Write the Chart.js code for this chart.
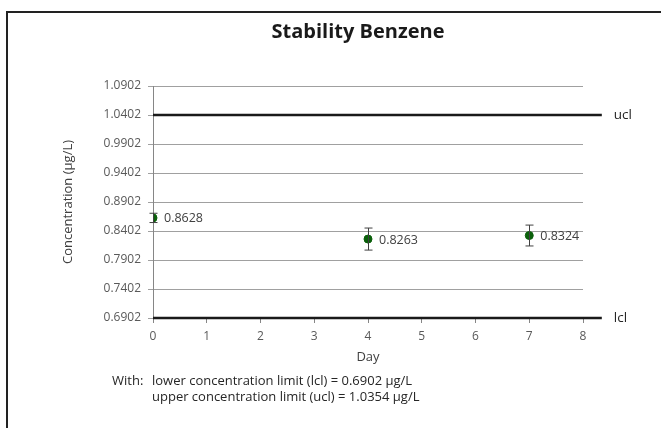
<!DOCTYPE html>
<html lang="en">
<head>
  <meta charset="UTF-8">
  <title>Stability Benzene</title>
  <script src="https://cdn.jsdelivr.net/npm/chart.js"></script>
  <style>
    body { margin: 0; background: #fff; }
    #wrap { position: relative; width: 661px; height: 428px; }
    #frame { position: absolute; left: 6px; top: 11px; right: 0; bottom: 0;
             border-top: 2px solid #222; border-left: 2px solid #222; pointer-events: none; }
    #title { position: absolute; left: 258px; width: 200px; top: 18px; text-align: center;
             font-family: 'Open Sans', sans-serif; font-weight: bold; font-size: 20px;
             line-height: 26px; color: #1a1a1a; }
    #note { position: absolute; left: 112px; top: 372px; font-family: 'Open Sans', sans-serif;
            font-size: 13px; line-height: 16px; color: #262626; white-space: nowrap; }
    #note span { display: inline-block; width: 40px; }
    #note div { padding-left: 40px; }
  </style>
</head>
<body>
  <div id="wrap">
    <canvas id="stabilityChart" width="661" height="428"></canvas>
    <div id="frame"></div>
    <div id="title">Stability Benzene</div>
    <div id="note">
      <span>With:</span>lower concentration limit (lcl) = 0.6902 µg/L
      <div>upper concentration limit (ucl) = 1.0354 µg/L</div>
    </div>
  </div>
  <script>
    // values
    const days = [0, 4, 7];
    const concentration = [0.8628, 0.8263, 0.8324];
    const errorSize = [0.008, 0.019, 0.018];
    const xTicks = [0, 1, 2, 3, 4, 5, 6, 7, 8];
    const yTicks = [0.6902, 0.7402, 0.7902, 0.8402, 0.8902, 0.9402, 0.9902, 1.0402, 1.0902];
    const limitNames = ['ucl', 'lcl'];
    const limitValues = [1.0402, 0.6902];
    const limitSpan = [0, 8.35];

    Chart.defaults.font.family = "'Open Sans', sans-serif";

    // vertical error bars with caps
    const errorBars = {
      id: 'errorBars',
      afterDatasetsDraw(chart) {
        const ctx = chart.ctx;
        const x = chart.scales.x, y = chart.scales.y;
        ctx.save();
        ctx.strokeStyle = '#404040';
        ctx.lineWidth = 1;
        days.forEach((d, i) => {
          const px = Math.round(x.getPixelForValue(d)) + 0.5;
          const top = y.getPixelForValue(concentration[i] + errorSize[i]);
          const bot = y.getPixelForValue(concentration[i] - errorSize[i]);
          ctx.beginPath();
          ctx.moveTo(px, top); ctx.lineTo(px, bot);
          ctx.moveTo(px - 4, top); ctx.lineTo(px + 4, top);
          ctx.moveTo(px - 4, bot); ctx.lineTo(px + 4, bot);
          ctx.stroke();
        });
        ctx.restore();
      }
    };

    // value labels next to points and ucl / lcl names at line ends
    const textLabels = {
      id: 'textLabels',
      afterDatasetsDraw(chart) {
        const ctx = chart.ctx;
        const x = chart.scales.x, y = chart.scales.y;
        ctx.save();
        ctx.font = "12.5px 'Open Sans', sans-serif";
        ctx.fillStyle = '#404040';
        ctx.textBaseline = 'middle';
        days.forEach((d, i) => {
          ctx.fillText(concentration[i].toFixed(4), x.getPixelForValue(d) + 11, y.getPixelForValue(concentration[i]) + 1);
        });
        ctx.font = "13.5px 'Open Sans', sans-serif";
        ctx.fillStyle = '#262626';
        limitNames.forEach((n, i) => {
          ctx.fillText(n, x.getPixelForValue(limitSpan[1]) + 12, y.getPixelForValue(limitValues[i]));
        });
        ctx.restore();
      }
    };

    const limitSets = limitNames.map((n, i) => ({
      label: n,
      data: limitSpan.map(v => ({ x: v, y: limitValues[i] })),
      showLine: true,
      borderColor: '#1a1a1a',
      borderWidth: 2.5,
      pointRadius: 0,
      clip: false
    }));

    new Chart(document.getElementById('stabilityChart'), {
      type: 'scatter',
      data: {
        datasets: [
          ...limitSets,
          {
            label: 'Benzene',
            data: days.map((d, i) => ({ x: d, y: concentration[i] })),
            backgroundColor: '#0b600b',
            borderColor: '#0b600b',
            pointRadius: 4,
            pointHoverRadius: 4
          }
        ]
      },
      options: {
        responsive: false,
        animation: false,
        layout: { padding: { left: 48, right: 78, top: 86, bottom: 63 } },
        plugins: {
          legend: { display: false },
          tooltip: { enabled: false },
          title: { display: false }
        },
        scales: {
          x: {
            type: 'linear',
            min: 0,
            max: 8,
            afterBuildTicks: s => { s.ticks = xTicks.map(v => ({ value: v })); },
            grid: { drawOnChartArea: false, color: '#868686', tickLength: 5 },
            border: { color: '#868686' },
            ticks: { color: '#595959', font: { size: 12 }, padding: 6 },
            title: { display: true, text: 'Day', color: '#404040', font: { size: 13 }, padding: { top: 0, bottom: 0 } }
          },
          y: {
            min: yTicks[0],
            max: yTicks[yTicks.length - 1],
            afterBuildTicks: s => { s.ticks = yTicks.map(v => ({ value: v })); },
            afterFit: s => { s.width = 105; },
            grid: { color: '#a0a0a0', tickLength: 5 },
            border: { color: '#868686' },
            ticks: { color: '#595959', font: { size: 12 }, padding: 7, callback: v => v.toFixed(4) },
            title: { display: true, text: 'Concentration (µg/L)', color: '#404040', font: { size: 13 }, padding: { top: 12, bottom: 0 } }
          }
        }
      },
      plugins: [errorBars, textLabels]
    });
  </script>
</body>
</html>
